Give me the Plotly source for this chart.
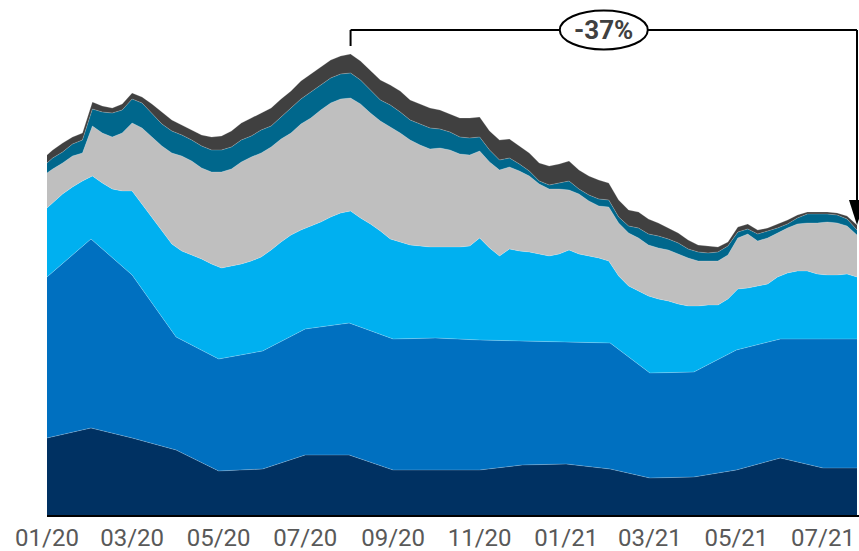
import pandas as pd
import plotly.graph_objects as go

# ---- data (cumulative stacked levels, arbitrary units) ----
month_dates = [d.strftime("%Y-%m-%d") for d in pd.date_range("2020-01-01", "2021-07-01", freq="MS")] + ["2021-07-25"]
week_dates = ["2020-01-01"] + [d.strftime("%Y-%m-%d") for d in pd.date_range("2020-01-05", "2021-07-25", freq="7D")]

cum_navy = [77, 87, 77, 65, 44, 46, 60, 60, 45, 45, 45, 50, 51, 46, 37, 38, 45, 57, 47, 47]
cum_blue = [238, 276, 240, 178, 156, 164, 186, 192, 176, 177, 175, 174, 173, 172, 142, 143, 165, 176, 176, 176]

cum_cyan = [307,
            312, 321, 328, 334, 339, 332, 326, 324, 324, 311,
            297, 284, 271, 264, 260, 256, 251, 247, 249, 251,
            254, 258, 265, 273, 280, 285, 289, 293, 298, 302,
            304, 297, 291, 284, 276, 273, 270, 269, 268, 268,
            268, 268, 269, 277, 267, 259, 266, 264, 263, 261,
            259, 261, 265, 261, 259, 257, 254, 239, 229, 224,
            219, 216, 214, 211, 209, 209, 210, 210, 216, 226,
            227, 229, 231, 238, 242, 244, 244, 241, 240, 240,
            241, 238]
cum_gray = [342,
            346, 352, 359, 362, 389, 382, 378, 382, 392, 387,
            378, 369, 362, 359, 354, 347, 343, 343, 346, 353,
            358, 362, 368, 376, 382, 391, 397, 405, 412, 416,
            417, 411, 402, 394, 388, 382, 375, 370, 366, 367,
            365, 361, 360, 364, 353, 345, 348, 344, 339, 331,
            326, 326, 325, 321, 314, 309, 308, 292, 282, 277,
            270, 267, 265, 261, 257, 254, 254, 254, 260, 277,
            281, 274, 277, 282, 287, 291, 292, 292, 293, 292,
            289, 280]
cum_teal = [352,
            357, 363, 371, 375, 406, 403, 402, 405, 416, 412,
            402, 391, 384, 380, 375, 369, 365, 365, 368, 375,
            379, 385, 389, 398, 406, 416, 423, 430, 437, 441,
            442, 435, 425, 415, 410, 403, 395, 391, 387, 386,
            383, 378, 377, 378, 365, 355, 357, 351, 344, 334,
            330, 332, 334, 326, 320, 316, 315, 298, 289, 287,
            281, 279, 276, 272, 266, 263, 262, 263, 269, 283,
            286, 281, 284, 287, 291, 297, 301, 301, 301, 300,
            296, 285]
cum_dark = [360,
            365, 372, 378, 382, 413, 409, 407, 411, 422, 418,
            411, 403, 395, 390, 385, 380, 378, 379, 384, 392,
            397, 402, 407, 416, 424, 434, 441, 448, 455, 459,
            461, 454, 444, 435, 430, 424, 415, 411, 407, 405,
            401, 397, 397, 398, 384, 375, 376, 369, 362, 352,
            349, 351, 354, 345, 339, 335, 332, 315, 305, 303,
            296, 292, 287, 282, 275, 270, 269, 268, 273, 288,
            291, 285, 287, 291, 295, 300, 303, 303, 303, 302,
            299, 290]

tick_dates = [d.strftime("%Y-%m-%d") for d in pd.date_range("2020-01-01", "2021-07-01", freq="2MS")]
change_label = "-37%"

colors = ["#003162", "#0070C0", "#00B0F0", "#BFBFBF", "#00678C", "#404040"]
edge = dict(width=0.6, color="rgba(255,255,255,0.35)")

fig = go.Figure()
fig.add_trace(go.Scatter(x=month_dates, y=cum_navy, mode="lines", fill="tozeroy",
                         fillcolor=colors[0], line=edge, hoverinfo="skip"))
fig.add_trace(go.Scatter(x=month_dates, y=cum_blue, mode="lines", fill="tonexty",
                         fillcolor=colors[1], line=edge, hoverinfo="skip"))
for ys, c in [(cum_cyan, colors[2]), (cum_gray, colors[3]), (cum_teal, colors[4]), (cum_dark, colors[5])]:
    fig.add_trace(go.Scatter(x=week_dates, y=ys, mode="lines", fill="tonexty",
                             fillcolor=c, line=edge, hoverinfo="skip"))

# ---- bracket annotation ----
peak_i = max(range(len(cum_dark)), key=lambda i: cum_dark[i])
peak_date = week_dates[peak_i]
end_date = week_dates[-1]
bracket_y = 485
mid_date = pd.Timestamp(peak_date) + (pd.Timestamp(end_date) - pd.Timestamp(peak_date)) / 2

shapes = [
    dict(type="line", xref="x", yref="y", x0=peak_date, x1=peak_date, y0=bracket_y, y1=469,
         line=dict(color="black", width=2)),
    dict(type="line", xref="x", yref="y", x0=peak_date, x1=end_date, y0=bracket_y, y1=bracket_y,
         line=dict(color="black", width=2)),
    dict(type="line", xref="x", yref="y", x0=end_date, x1=end_date, y0=bracket_y, y1=cum_dark[-1] + 20,
         line=dict(color="black", width=2)),
    dict(type="path", xref="x", yref="y", xsizemode="pixel", ysizemode="pixel",
         xanchor=end_date, yanchor=cum_dark[-1], path="M -8,25 L 8,25 L 0,0 Z",
         fillcolor="black", line=dict(width=0)),
    dict(type="circle", xref="x", yref="y", xsizemode="pixel", ysizemode="pixel",
         xanchor=mid_date, yanchor=bracket_y, x0=-44, x1=44, y0=-19.5, y1=19.5,
         fillcolor="white", line=dict(color="black", width=2)),
]

fig.update_layout(
    width=859, height=551,
    margin=dict(l=47, r=0, t=0, b=36, pad=0, autoexpand=False),
    paper_bgcolor="white", plot_bgcolor="white",
    showlegend=False,
    font=dict(family="Roboto", color="#595959"),
    shapes=shapes,
    annotations=[dict(x=mid_date, y=bracket_y, xref="x", yref="y", text="<b>" + change_label + "</b>",
                      showarrow=False, font=dict(size=26, color="#404040", family="Roboto"))],
    xaxis=dict(type="date", range=["2020-01-01", "2021-07-26 10:00"],
               tickvals=tick_dates, tickformat="%m/%y", automargin=False,
               showgrid=False, zeroline=False, showline=True, linecolor="black", linewidth=2,
               ticks="",
               tickfont=dict(size=24, color="#595959", family="Roboto"), fixedrange=True),
    yaxis=dict(range=[0, 515], visible=False, showgrid=False, zeroline=False, fixedrange=True,
               automargin=False),
)

fig.write_html("out.html", config={"displayModeBar": False})
